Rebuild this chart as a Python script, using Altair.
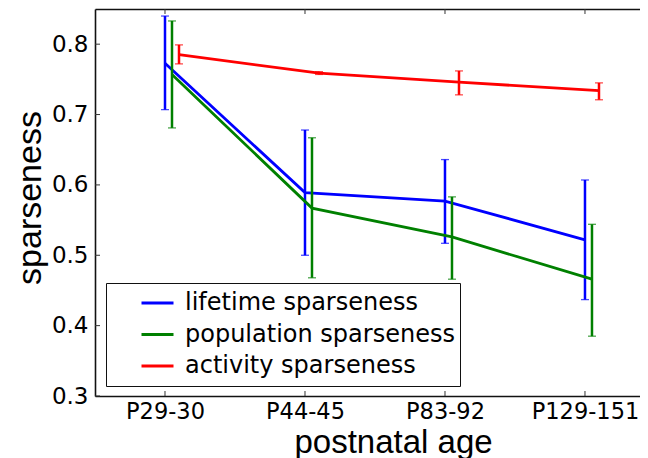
import json
import altair as alt
import pandas as pd

categories = ["P29-30", "P44-45", "P83-92", "P129-151"]
series = ["lifetime sparseness", "population sparseness", "activity sparseness"]
colors = ["#0000ff", "#008000", "#ff0000"]

lifetime_mean = [0.773, 0.589, 0.577, 0.522]
lifetime_lo = [0.707, 0.500, 0.517, 0.437]
lifetime_hi = [0.840, 0.678, 0.636, 0.607]

population_mean = [0.757, 0.567, 0.526, 0.466]
population_lo = [0.681, 0.468, 0.466, 0.385]
population_hi = [0.833, 0.667, 0.583, 0.544]

activity_mean = [0.785, 0.759, 0.746, 0.734]
activity_lo = [0.772, 0.757, 0.728, 0.721]
activity_hi = [0.799, 0.761, 0.762, 0.745]

y_ticks = [0.3, 0.4, 0.5, 0.6, 0.7, 0.8]
x_ticks = [0, 1, 2, 3]
offsets = [0.0, 0.05, 0.1]

rows = []
for s, m, lo, hi, off in zip(
    series,
    [lifetime_mean, population_mean, activity_mean],
    [lifetime_lo, population_lo, activity_lo],
    [lifetime_hi, population_hi, activity_hi],
    offsets,
):
    for i, c in enumerate(categories):
        rows.append({"series": s, "pos": i + off, "mean": m[i], "lo": lo[i], "hi": hi[i]})
df = pd.DataFrame(rows)

W, H = 545, 387
FRAME = "#111111"
xscale = alt.Scale(domain=[-0.5, 3.393], nice=False, zero=False)
yscale = alt.Scale(domain=[0.3, 0.85], nice=False, zero=False)

label_expr = json.dumps(categories) + "[datum.value]"

x_axis = alt.Axis(
    values=x_ticks, labelExpr=label_expr, labelFont="DejaVu Sans", labelFontSize=22.5,
    labelColor="#000", tickSize=0, labelPadding=4, grid=False,
    domain=True, domainColor=FRAME, domainWidth=1.6,
    title="postnatal age", titleFont="Liberation Sans", titleFontSize=33,
    titleFontWeight="normal", titleColor="#000", titleX=298, titleY=56,
    titleBaseline="alphabetic", titleAlign="center",
)
x_axis_top = alt.Axis(
    orient="top", values=x_ticks, labels=False, ticks=False, grid=False,
    domain=True, domainColor=FRAME, domainWidth=1.6, title=None,
)
y_axis = alt.Axis(
    values=y_ticks, format=".1f", labelFont="DejaVu Sans", labelFontSize=23,
    labelColor="#000", tickSize=0, labelPadding=7, grid=False,
    domain=True, domainColor=FRAME, domainWidth=1.6,
    title="sparseness", titleFont="Liberation Sans", titleFontSize=34,
    titleFontWeight="normal", titleColor="#000", titleX=-55, titleY=188.5,
    titleAngle=270, titleBaseline="alphabetic", titleAlign="center",
)

cscale = alt.Scale(domain=series, range=colors)
color_enc = alt.Color(
    "series:N",
    scale=cscale,
    sort=series,
    legend=alt.Legend(
        title=None, orient="none", legendX=11, legendY=274,
        symbolType="stroke", symbolSize=1024, symbolStrokeWidth=3,
        symbolOffset=29, labelOffset=10, clipHeight=30, rowPadding=1.5,
        padding=5, labelFont="DejaVu Sans", labelFontSize=24, labelColor="#000",
        labelLimit=500, strokeColor=FRAME, fillColor="#fff",
    ),
)

base = alt.Chart(df)
layers = []
for k, s in enumerate(series):
    sub = base.transform_filter(alt.datum.series == s)
    layers.append(
        sub.mark_line(strokeWidth=2.8).encode(
            x=alt.X("pos:Q", scale=xscale, axis=x_axis if k == 0 else None),
            y=alt.Y("mean:Q", scale=yscale, axis=y_axis),
            color=color_enc,
        )
    )
    layers.append(
        sub.mark_rule(strokeWidth=2.5).encode(
            x=alt.X("pos:Q", scale=xscale, axis=None),
            y=alt.Y("lo:Q", scale=yscale, axis=y_axis),
            y2="hi:Q",
            color=alt.Color("series:N", scale=cscale, legend=None),
        )
    )
    for f in ["lo", "hi"]:
        layers.append(
            sub.mark_tick(orient="horizontal", size=8, thickness=1.3).encode(
                x=alt.X("pos:Q", scale=xscale, axis=None),
                y=alt.Y(f + ":Q", scale=yscale, axis=y_axis),
                color=alt.Color("series:N", scale=cscale, legend=None),
            )
        )

ytick_df = pd.DataFrame({"v": y_ticks})
xtick_df = pd.DataFrame({"v": x_ticks})
ytick = alt.Chart(ytick_df).mark_rule(color="#333", strokeWidth=1).encode(
    y=alt.Y("v:Q", scale=yscale, axis=y_axis), x=alt.value(0), x2=alt.value(5)
)
xtick_b = alt.Chart(xtick_df).mark_rule(color="#333", strokeWidth=1).encode(
    x=alt.X("v:Q", scale=xscale, axis=None), y=alt.value(H), y2=alt.value(H - 5)
)
xtick_t = alt.Chart(xtick_df).mark_rule(color="#333", strokeWidth=1).encode(
    x=alt.X("v:Q", scale=xscale, axis=x_axis_top), y=alt.value(0), y2=alt.value(5)
)

chart = alt.layer(ytick, xtick_b, xtick_t, *layers).resolve_axis(x="independent").properties(
    width=W, height=H,
    autosize=alt.AutoSizeParams(type="none"),
    padding={"left": 87, "top": 1, "right": 0, "bottom": 62},
    background="#ffffff",
).configure_view(stroke=None)

chart.save("out.html", embed_options={"renderer": "svg", "actions": False})
